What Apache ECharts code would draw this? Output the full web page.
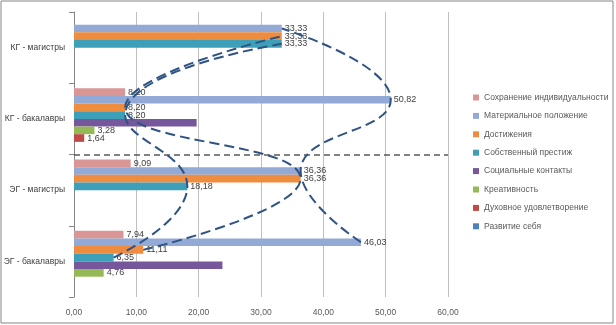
<!DOCTYPE html>
<html>
<head>
<meta charset="utf-8">
<script src="https://cdn.jsdelivr.net/npm/echarts@6/dist/echarts.min.js"></script>
<style>
html,body{margin:0;padding:0;background:#fff;}
#chart{width:616px;height:325px;}
</style>
</head>
<body>
<div id="chart"></div>
<script>
// categories bottom -> top
const categories = ['ЭГ - бакалавры', 'ЭГ - магистры', 'КГ - бакалавры', 'КГ - магистры'];
// series listed top bar -> bottom bar (legend order)
const seriesNames = ['Сохранение индивидуальности', 'Материальное положение', 'Достижения', 'Собственный престиж', 'Социальные контакты', 'Креативность', 'Духовное удовлетворение', 'Развитие себя'];
const sohranenie   = [7.94, 9.09, 8.20, 0];
const materialnoe  = [46.03, 36.36, 50.82, 33.33];
const dostizheniya = [11.11, 36.36, 8.20, 33.33];
const prestizh     = [6.35, 18.18, 8.20, 33.33];
const socialnye    = [23.81, 0, 19.67, 0];
const kreativnost  = [4.76, 0, 3.28, 0];
const duhovnoe     = [0, 0, 1.64, 0];
const razvitie     = [0, 0, 0, 0];
const seriesValues = [sohranenie, materialnoe, dostizheniya, prestizh, socialnye, kreativnost, duhovnoe, razvitie];
const showLabels = [true, true, true, true, false, true, true, true];
const xTicks = [0, 10, 20, 30, 40, 50, 60];
// series whose bar ends are joined by dashed curves
const curveSeries = [1, 2, 3];

const colors = ['#D99694', '#93A9D6', '#EE8C40', '#3E9FB8', '#76579C', '#95B955', '#BE4B48', '#4F81BD'];
const catGap = 0.14;

const fmt = v => v.toFixed(2).replace('.', ',');
const font = '"Liberation Sans", Arial, sans-serif';

const series = seriesValues.map((vals, s) => ({
  name: seriesNames[s],
  type: 'bar',
  xAxisIndex: 0, yAxisIndex: 0,
  data: vals,
  barGap: '0%',
  barCategoryGap: (catGap * 100) + '%',
  itemStyle: { color: colors[s] },
  label: {
    show: showLabels[s],
    position: 'right',
    distance: 3,
    fontFamily: font,
    fontSize: 9,
    color: '#404040',
    formatter: p => (p.value > 0 ? fmt(p.value) : '')
  },
  z: 2
}));

// bar centre positions on overlay value axis (category i spans [i, i+1])
const n = seriesValues.length;
const total = 1 - catGap;
const bw = total / n;
curveSeries.forEach(s => {
  const pts = seriesValues[s].map((v, i) => [v, i + 0.5 + total / 2 - (s + 0.5) * bw]);
  series.push({
    type: 'line',
    xAxisIndex: 0, yAxisIndex: 1,
    data: pts,
    smooth: 0.5,
    symbol: 'none',
    lineStyle: { color: '#2F5384', width: 2, type: [10, 5] },
    silent: true,
    z: 5
  });
});
// group separator
series.push({
  type: 'line', xAxisIndex: 0, yAxisIndex: 1, data: [], silent: true,
  markLine: {
    silent: true, symbol: 'none', label: { show: false },
    lineStyle: { color: '#595959', width: 1.5, type: [6, 4] },
    data: [{ yAxis: 2 }]
  },
  z: 4
});

const chart = echarts.init(document.getElementById('chart'), null, { renderer: 'canvas' });
chart.setOption({
  animation: false,
  backgroundColor: '#ffffff',
  grid: { left: 74, right: 168, top: 12, bottom: 28, containLabel: false, outerBoundsMode: 'none' },
  legend: {
    orient: 'vertical',
    left: 468, top: 87,
    data: seriesNames,
    icon: 'rect',
    itemWidth: 6, itemHeight: 6,
    itemGap: 7.4,
    textStyle: { fontFamily: font, fontSize: 8.5, color: '#595959', lineHeight: 11 }
  },
  xAxis: {
    type: 'value', min: xTicks[0], max: xTicks[xTicks.length - 1], interval: 10,
    axisLine: { show: false }, axisTick: { show: false },
    splitLine: { lineStyle: { color: '#BFBFBF', width: 1 } },
    axisLabel: { fontFamily: font, fontSize: 8.5, color: '#595959', margin: 11, formatter: v => fmt(v) }
  },
  yAxis: [{
    type: 'category', data: categories,
    axisLine: { lineStyle: { color: '#868686' } },
    axisTick: { show: true, length: 5, lineStyle: { color: '#868686' } },
    axisLabel: { fontFamily: font, fontSize: 8.5, color: '#404040', margin: 9 },
    splitLine: { show: false }
  }, {
    type: 'value', min: 0, max: categories.length, show: false
  }],
  graphic: [{
    type: 'rect', shape: { x: 1, y: 1, width: 612, height: 322 },
    style: { fill: 'none', stroke: '#868686', lineWidth: 1 }, silent: true
  }],
  series: series
});
</script>
</body>
</html>
